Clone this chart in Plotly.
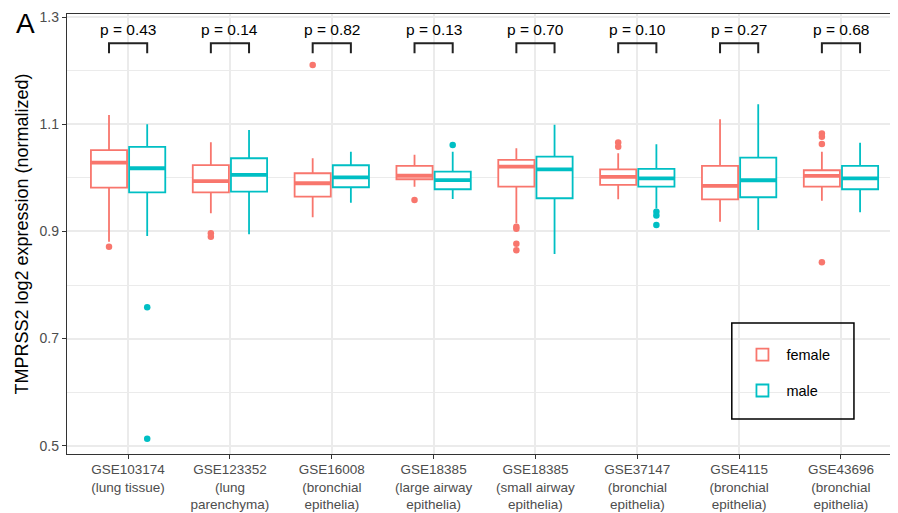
import plotly.graph_objects as go

# ---------------- data ----------------
categories = ["GSE103174<br>(lung tissue)", "GSE123352<br>(lung<br>parenchyma)",
              "GSE16008<br>(bronchial<br>epithelia)", "GSE18385<br>(large airway<br>epithelia)",
              "GSE18385<br>(small airway<br>epithelia)", "GSE37147<br>(bronchial<br>epithelia)",
              "GSE4115<br>(bronchial<br>epithelia)", "GSE43696<br>(bronchial<br>epithelia)"]
p_values = ["p = 0.43", "p = 0.14", "p = 0.82", "p = 0.13", "p = 0.70", "p = 0.10", "p = 0.27", "p = 0.68"]

female_lower  = [0.881, 0.934, 0.9265, 0.9837, 0.9153, 0.960, 0.918, 0.9575]
female_q1     = [0.982, 0.973, 0.965, 0.9975, 0.9837, 0.987, 0.960, 0.9837]
female_median = [1.0285, 0.994, 0.990, 1.004, 1.021, 1.002, 0.985, 1.0036]
female_q3     = [1.052, 1.024, 1.0087, 1.0223, 1.0335, 1.016, 1.0223, 1.0143]
female_upper  = [1.1176, 1.0666, 1.0367, 1.043, 1.0554, 1.046, 1.1095, 1.049]
female_outliers = [[0.8716], [0.8966, 0.8903], [1.211], [0.9588],
                   [0.909, 0.905, 0.877, 0.865], [1.066, 1.058], [], [1.083, 1.077, 1.0634, 0.8425]]

male_lower  = [0.8916, 0.8948, 0.9538, 0.9607, 0.858, 0.943, 0.9028, 0.9357]
male_q1     = [0.973, 0.9743, 0.9825, 0.9788, 0.962, 0.9837, 0.9639, 0.9788]
male_median = [1.018, 1.0055, 1.001, 0.996, 1.016, 0.999, 0.9956, 0.999]
male_q3     = [1.058, 1.0367, 1.0236, 1.0116, 1.0397, 1.0167, 1.0378, 1.0223]
male_upper  = [1.100, 1.0895, 1.049, 1.049, 1.099, 1.063, 1.1375, 1.0658]
male_outliers = [[0.7585, 0.513], [], [], [1.0615], [], [0.937, 0.930, 0.912], [], []]

y_ticks = [0.5, 0.7, 0.9, 1.1, 1.3]

# ---------------- styling ----------------
FEMALE = "#F8766D"
MALE = "#00BFC4"
FONT = "Liberation Sans, Arial, sans-serif"
DODGE = 0.1875
BOX_W = 0.355
BRACKET_TOP = 1.2514
BRACKET_BOT = 1.2328
P_Y = 1.2776

n = len(categories)
idx = list(range(n))

fig = go.Figure()


def add_group(name, color, offset, lower, q1, med, q3, upper, outliers):
    xs = [i + offset for i in idx]
    fig.add_trace(go.Box(
        name=name, x=xs, q1=q1, median=med, q3=q3, lowerfence=lower, upperfence=upper,
        width=BOX_W, whiskerwidth=0, fillcolor="white",
        line=dict(color=color, width=1.8), boxpoints=False,
        legendgroup=name, showlegend=True, hoverinfo="skip"))
    mx, my = [], []
    for x, m in zip(xs, med):
        mx += [x - BOX_W / 2, x + BOX_W / 2, None]
        my += [m, m, None]
    fig.add_trace(go.Scatter(x=mx, y=my, mode="lines", line=dict(color=color, width=3.8),
                             showlegend=False, legendgroup=name, hoverinfo="skip"))
    ox, oy = [], []
    for x, outs in zip(xs, outliers):
        for v in outs:
            ox.append(x)
            oy.append(v)
    fig.add_trace(go.Scatter(x=ox, y=oy, mode="markers", marker=dict(color=color, size=6.5),
                             showlegend=False, legendgroup=name, hoverinfo="skip"))


add_group("female", FEMALE, -DODGE, female_lower, female_q1, female_median, female_q3,
          female_upper, female_outliers)
add_group("male", MALE, DODGE, male_lower, male_q1, male_median, male_q3,
          male_upper, male_outliers)

shapes = []
annotations = []
for i, p in zip(idx, p_values):
    shapes.append(dict(type="path", xref="x", yref="y",
                       path=f"M{i - DODGE},{BRACKET_BOT} L{i - DODGE},{BRACKET_TOP} "
                            f"L{i + DODGE},{BRACKET_TOP} L{i + DODGE},{BRACKET_BOT}",
                       line=dict(color="#222222", width=2)))
    annotations.append(dict(x=i, y=P_Y, xref="x", yref="y", text=p, showarrow=False,
                            font=dict(family=FONT, size=15.5, color="black")))

# legend frame
shapes.append(dict(type="rect", xref="paper", yref="paper", x0=0.800, x1=0.947,
                   y0=0.0795, y1=0.2977, line=dict(color="black", width=1.5),
                   fillcolor="rgba(255,255,255,0)", layer="above"))

annotations.append(dict(x=-0.050, y=1.018, xref="paper", yref="paper", text="A", showarrow=False,
                        xanchor="center", yanchor="top",
                        font=dict(family=FONT, size=28, color="black")))

# The page body adds an 8px margin, so the figure is 8px smaller than the window.
fig.update_layout(
    width=890, height=505,
    margin=dict(l=59, r=0, t=6, b=59, autoexpand=False),
    paper_bgcolor="white", plot_bgcolor="white",
    font=dict(family=FONT),
    shapes=shapes, annotations=annotations,
    boxmode="overlay",
    legend=dict(x=0.808, y=0.262, xanchor="left", yanchor="top",
                bgcolor="rgba(0,0,0,0)", borderwidth=0,
                font=dict(family=FONT, size=14.5, color="black"),
                tracegroupgap=14, traceorder="grouped", itemwidth=38),
)

fig.update_xaxes(
    range=[-0.6, 7.56], tickvals=idx, ticktext=categories, automargin=False,
    showgrid=True, gridcolor="#EBEBEB", gridwidth=1.6,
    showline=True, linecolor="#333333", linewidth=1.3, mirror=True,
    ticks="outside", ticklen=4, tickcolor="#333333", tickwidth=1.3,
    ticklabelstandoff=-1,
    tickfont=dict(family=FONT, size=13.5, color="#4D4D4D"), zeroline=False,
)
fig.update_yaxes(
    range=[0.4845, 1.306], tickvals=y_ticks, ticktext=[f"{v:.1f}" for v in y_ticks],
    automargin=False,
    showgrid=True, gridcolor="#EBEBEB", gridwidth=1.6,
    minor=dict(tickvals=[0.6, 0.8, 1.0, 1.2], showgrid=True, gridcolor="#EBEBEB", gridwidth=0.8),
    showline=True, linecolor="#333333", linewidth=1.3,
    ticks="outside", ticklen=4, tickcolor="#333333", tickwidth=1.3,
    tickfont=dict(family=FONT, size=14, color="#4D4D4D"), zeroline=False,
    title=dict(text="TMPRSS2 log2 expression (normalized)", standoff=6,
               font=dict(family=FONT, size=18, color="black")),
)

fig.write_html("out.html")
